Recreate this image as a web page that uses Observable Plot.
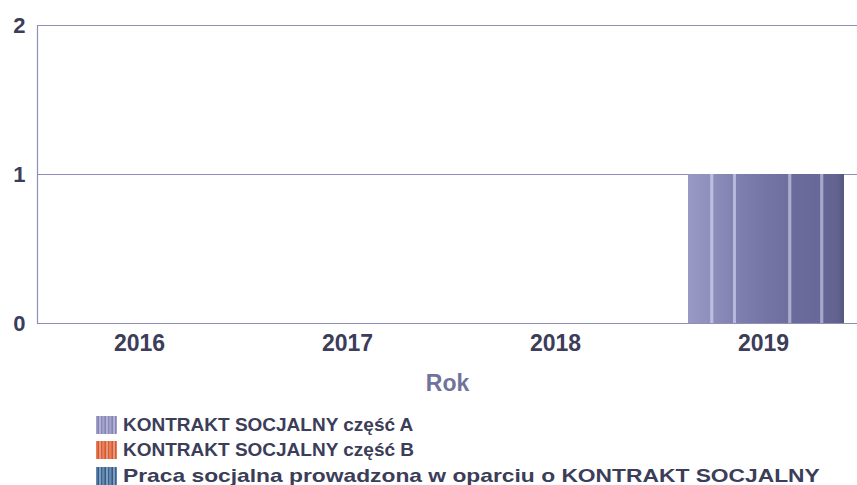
<!DOCTYPE html>
<html>
<head>
<meta charset="utf-8">
<script src="https://cdn.jsdelivr.net/npm/d3@7"></script>
<script src="https://cdn.jsdelivr.net/npm/@observablehq/plot@0.6"></script>
<style>
  body { margin: 0; background: #fff; font-family: "Liberation Sans", Arial, sans-serif; }
  #chart svg { display: block; }
  g[aria-label="x-axis label"] text { fill: #71739b; }
  .legend { margin-top: 12px; }
  .row { display: flex; align-items: center; height: 25.5px; margin-left: 96px; font-weight: bold; font-size: 19px; color: #3b3d59; white-space: nowrap; }
  .row span { display: inline-block; transform-origin: left center; }
  .row:nth-child(3) span { transform: scaleX(1.2); }
  .sw { width: 21px; height: 18px; margin-right: 6px; flex: none; }
</style>
</head>
<body>
<div id="chart"></div>
<div class="legend" id="legend"></div>
<script>
const years = ["2016", "2017", "2018", "2019"];
const seriesNames = ["KONTRAKT SOCJALNY część A", "KONTRAKT SOCJALNY część B", "Praca socjalna prowadzona w oparciu o KONTRAKT SOCJALNY"];
const valuesA = [0, 0, 0, 1];
const valuesB = [0, 0, 0, 0];
const valuesC = [0, 0, 0, 0];
const yTicks = [0, 1, 2];
const swatchColors = [
  ["#a9a9d2", "#7b7bb0"],
  ["#f08a63", "#d24d20"],
  ["#6f97bf", "#244f7d"]
];

const data = years.map((y, i) => ({year: y, A: valuesA[i], B: valuesB[i], C: valuesC[i]}));

const axisColor = "#8e8fb8";
const textColor = "#3b3d59";

const chart = Plot.plot({
  width: 857,
  height: 400,
  marginLeft: 37,
  marginRight: 0,
  marginTop: 25,
  marginBottom: 77,
  style: {fontFamily: '"Liberation Sans", Arial, sans-serif', fontWeight: "bold", color: textColor, background: "#fff"},
  x: {type: "band", domain: years, range: [33, 868], padding: 0},
  y: {domain: [0, 2]},
  marks: [
    Plot.ruleY(yTicks.filter(d => d > 0), {stroke: axisColor, strokeWidth: 1.2}),
    Plot.barY(data.filter(d => d.A > 0), {x: "year", y: "A", fill: "url(#barGradA)", insetLeft: 29, insetRight: 23}),
    Plot.ruleY([0], {stroke: axisColor, strokeWidth: 1.2}),
    Plot.frame({anchor: "left", stroke: axisColor, strokeWidth: 1.2}),
    Plot.axisY({ticks: yTicks, tickSize: 0, tickPadding: 12, fontSize: 22, fill: textColor, label: null, tickFormat: d => String(d)}),
    Plot.axisX({tickSize: 0, tickPadding: 11, fontSize: 23, fill: textColor, label: "Rok", labelAnchor: "center", labelArrow: "none", labelOffset: 67})
  ]
});

const ns = "http://www.w3.org/2000/svg";
const defs = document.createElementNS(ns, "defs");
const grad = document.createElementNS(ns, "linearGradient");
grad.setAttribute("id", "barGradA");
grad.setAttribute("x1", "0"); grad.setAttribute("x2", "1");
grad.setAttribute("y1", "0"); grad.setAttribute("y2", "0");
const stops = [
  [0, "#9999c4"], [0.14, "#8f8fbd"], [0.145, "#bdbddd"], [0.16, "#bdbddd"], [0.165, "#8d8dbb"],
  [0.285, "#8383b3"], [0.29, "#b8b8da"], [0.305, "#b8b8da"], [0.31, "#8080b0"],
  [0.5, "#7575a5"], [0.64, "#6f6f9f"], [0.645, "#adadd0"], [0.66, "#adadd0"], [0.665, "#6c6c9c"],
  [0.845, "#686898"], [0.85, "#a8a8cc"], [0.865, "#a8a8cc"], [0.87, "#666696"],
  [0.96, "#62628f"], [1, "#555582"]
];
for (const [o, c] of stops) {
  const s = document.createElementNS(ns, "stop");
  s.setAttribute("offset", o);
  s.setAttribute("stop-color", c);
  grad.appendChild(s);
}
defs.appendChild(grad);
chart.insertBefore(defs, chart.firstChild);

document.getElementById("chart").appendChild(chart);

const legend = document.getElementById("legend");
seriesNames.forEach((name, i) => {
  const row = document.createElement("div");
  row.className = "row";
  const sw = document.createElement("div");
  sw.className = "sw";
  const [c1, c2] = swatchColors[i];
  sw.style.background = `repeating-linear-gradient(90deg, ${c1} 0px, ${c2} 3px, #e8e8f0 4px, ${c2} 5px, ${c1} 7px)`;
  const t = document.createElement("span");
  t.textContent = name;
  row.appendChild(sw);
  row.appendChild(t);
  legend.appendChild(row);
});
</script>
</body>
</html>
